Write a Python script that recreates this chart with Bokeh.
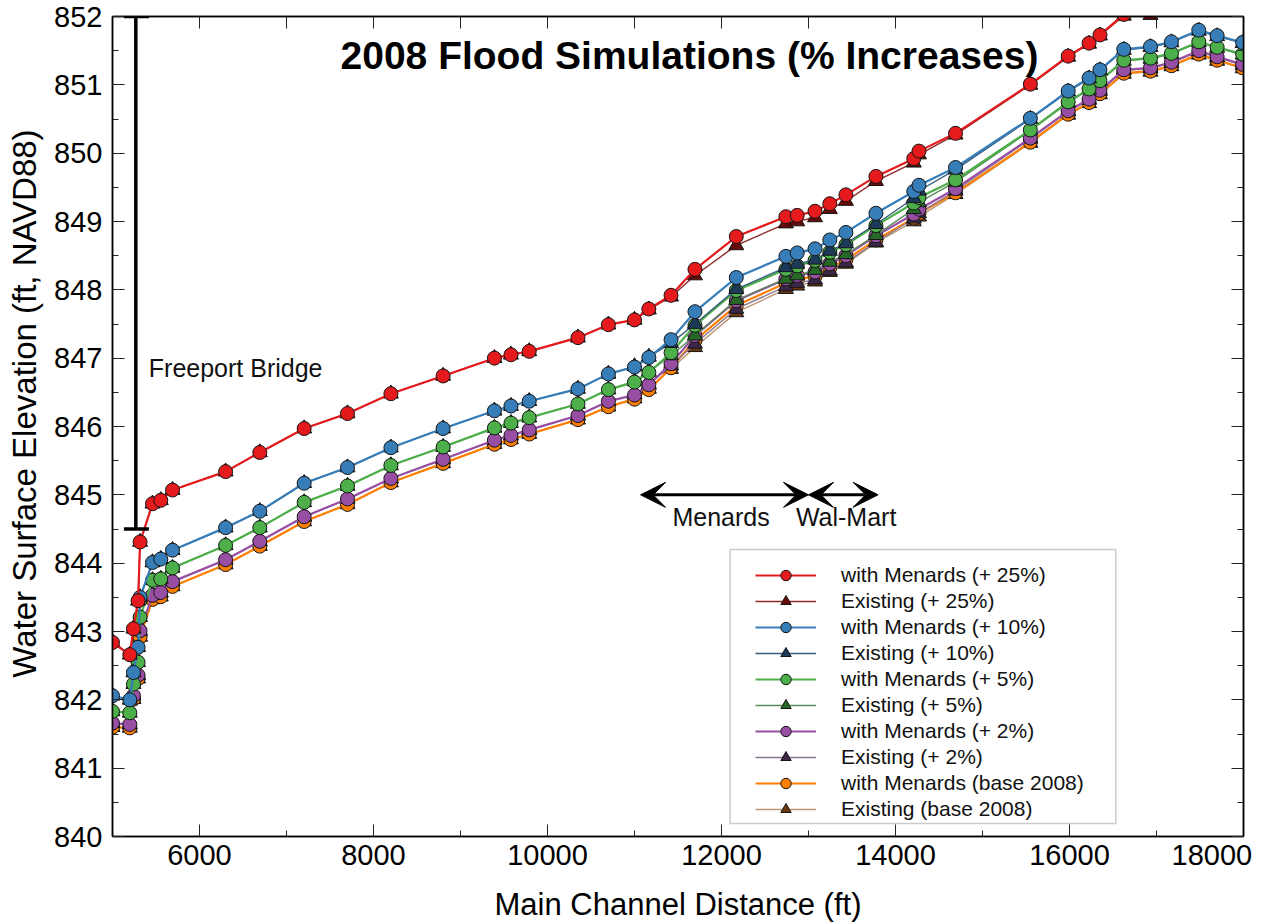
from bokeh.plotting import figure
from bokeh.models import (Range1d, LinearAxis, SingleIntervalTicker, FixedTicker, Legend, LegendItem,
                          Label, Arrow, VeeHead, BoxAnnotation, ColumnDataSource)
from bokeh.embed import file_html
from bokeh.resources import INLINE

FONT = "Liberation Sans"

# ---------------- data ----------------
distance_ft = [5000, 5199, 5241, 5294, 5317, 5460, 5555, 5690, 6300, 6693, 7203, 7701, 8200, 8800,
               9390, 9580, 9790, 10350, 10700, 11000, 11165, 11420, 11695, 12170, 12740, 12870,
               13075, 13245, 13430, 13775, 14210, 14270, 14690, 15550, 15985, 16225, 16350,
               16624, 16931, 17172, 17486, 17697, 17990]

menards_25 = [842.84, 842.66, 843.04, 843.45, 844.31, 844.87, 844.92, 845.07, 845.34, 845.62, 845.97,
              846.19, 846.48, 846.74, 847.00, 847.05, 847.10, 847.30, 847.49, 847.56, 847.72, 847.92,
              848.30, 848.78, 849.07, 849.09, 849.15, 849.26, 849.39, 849.66, 849.92, 850.03, 850.29,
              851.01, 851.42, 851.61, 851.73, 852.03, 852.12, 852.20, 852.35, 852.30, 852.25]
existing_25 = [842.84, 842.66, 843.04, 843.45, 844.31, 844.87, 844.92, 845.07, 845.34, 845.62, 845.97,
               846.19, 846.48, 846.74, 847.00, 847.05, 847.10, 847.30, 847.49, 847.56, 847.71, 847.90,
               848.21, 848.65, 848.97, 849.00, 849.06, 849.18, 849.30, 849.59, 849.86, 849.98, 850.27,
               851.00, 851.41, 851.60, 851.72, 852.01, 852.02, 852.10, 852.25, 852.20, 852.15]
menards_10 = [842.06, 842.00, 842.40, 842.77, 843.50, 844.01, 844.06, 844.19, 844.52, 844.76, 845.17,
              845.40, 845.69, 845.97, 846.23, 846.30, 846.37, 846.55, 846.77, 846.87, 847.01, 847.27,
              847.68, 848.18, 848.49, 848.54, 848.60, 848.73, 848.84, 849.12, 849.44, 849.53, 849.79,
              850.51, 850.91, 851.10, 851.22, 851.52, 851.56, 851.63, 851.80, 851.72, 851.62]
existing_10 = [842.06, 842.00, 842.40, 842.77, 843.50, 844.01, 844.06, 844.19, 844.52, 844.76, 845.17,
               845.40, 845.69, 845.97, 846.23, 846.30, 846.37, 846.55, 846.77, 846.88, 847.02, 847.22,
               847.50, 848.01, 848.33, 848.38, 848.44, 848.57, 848.68, 848.96, 849.34, 849.45, 849.76,
               850.50, 850.90, 851.09, 851.21, 851.51, 851.55, 851.62, 851.79, 851.71, 851.61]
menards_5 = [841.83, 841.81, 842.23, 842.55, 843.21, 843.75, 843.77, 843.93, 844.26, 844.52, 844.89,
             845.13, 845.43, 845.70, 845.98, 846.05, 846.13, 846.33, 846.54, 846.65, 846.79, 847.08,
             847.48, 847.99, 848.30, 848.35, 848.43, 848.55, 848.66, 848.94, 849.27, 849.35, 849.61,
             850.34, 850.75, 850.94, 851.06, 851.36, 851.39, 851.46, 851.63, 851.55, 851.45]
existing_5 = [841.83, 841.81, 842.23, 842.55, 843.21, 843.75, 843.77, 843.93, 844.26, 844.52, 844.89,
              845.13, 845.43, 845.70, 845.98, 846.05, 846.13, 846.33, 846.54, 846.66, 846.80, 847.04,
              847.33, 847.85, 848.16, 848.21, 848.29, 848.41, 848.52, 848.80, 849.18, 849.28, 849.58,
              850.33, 850.74, 850.93, 851.05, 851.35, 851.38, 851.45, 851.62, 851.54, 851.44]
menards_2 = [841.66, 841.64, 842.06, 842.36, 843.01, 843.53, 843.57, 843.73, 844.05, 844.32, 844.68,
             844.94, 845.24, 845.52, 845.80, 845.87, 845.95, 846.16, 846.37, 846.46, 846.61, 846.92,
             847.33, 847.84, 848.16, 848.21, 848.26, 848.38, 848.50, 848.79, 849.11, 849.18, 849.48,
             850.22, 850.62, 850.79, 850.92, 851.22, 851.25, 851.33, 851.50, 851.41, 851.30]
existing_2 = [841.66, 841.64, 842.06, 842.36, 843.01, 843.53, 843.57, 843.73, 844.05, 844.32, 844.68,
              844.94, 845.24, 845.52, 845.80, 845.87, 845.95, 846.16, 846.37, 846.47, 846.62, 846.89,
              847.21, 847.72, 848.05, 848.10, 848.15, 848.28, 848.40, 848.70, 849.04, 849.12, 849.45,
              850.21, 850.61, 850.78, 850.91, 851.21, 851.24, 851.32, 851.49, 851.40, 851.29]
menards_base = [841.60, 841.59, 842.01, 842.31, 842.92, 843.47, 843.51, 843.66, 843.98, 844.25, 844.61,
                844.86, 845.18, 845.46, 845.74, 845.81, 845.89, 846.10, 846.29, 846.40, 846.54, 846.86,
                847.26, 847.77, 848.10, 848.15, 848.20, 848.32, 848.44, 848.73, 849.05, 849.12, 849.42,
                850.16, 850.57, 850.74, 850.87, 851.17, 851.20, 851.28, 851.45, 851.36, 851.25]
existing_base = [841.60, 841.59, 842.01, 842.31, 842.92, 843.47, 843.51, 843.66, 843.98, 844.25, 844.61,
                 844.86, 845.18, 845.46, 845.74, 845.81, 845.89, 846.10, 846.29, 846.41, 846.55, 846.84,
                 847.16, 847.67, 848.01, 848.06, 848.12, 848.26, 848.38, 848.69, 849.00, 849.07, 849.40,
                 850.15, 850.56, 850.73, 850.86, 851.16, 851.19, 851.27, 851.44, 851.35, 851.24]

series_labels = ["with Menards (+ 25%)", "Existing (+ 25%)", "with Menards (+ 10%)", "Existing (+ 10%)",
                 "with Menards (+ 5%)", "Existing (+ 5%)", "with Menards (+ 2%)", "Existing (+ 2%)",
                 "with Menards (base 2008)", "Existing (base 2008)"]
series_values = [menards_25, existing_25, menards_10, existing_10, menards_5, existing_5,
                 menards_2, existing_2, menards_base, existing_base]

x_tick_labels = ["6000", "8000", "10000", "12000", "14000", "16000", "18000"]
# label anchor positions (layout): the last label sits inside the frame edge as in the original
x_label_anchor = [6000, 8000, 10000, 12000, 14000, 16000, 17636]

# annotation anchors (data units)
bridge_x = 5268
bridge_y = (844.5, 852.0)
bridge_cap = (5131, 5418)
menards_span = (11070, 13000)
walmart_span = (13000, 13800)
store_arrow_y = 845.0

# ---------------- styles ----------------
line_colors = ["#e41a1c", "#8e2b2b", "#377eb8", "#3a5d7e", "#4daf4a", "#5b8b5b",
               "#984ea3", "#8a7693", "#ff7f00", "#b8956f"]
fill_colors = ["#e41a1c", "#660a0a", "#377eb8", "#1e3a5a", "#4daf4a", "#266826",
               "#984ea3", "#3b2848", "#ff7f00", "#6a3810"]
markers = ["circle", "triangle"] * 5
line_widths = [2.2, 1.4] * 5

p = figure(width=1266, height=924, output_backend="svg", toolbar_location=None, title=None,
           x_range=Range1d(5000, 18000), y_range=Range1d(840, 852),
           min_border_left=112, min_border_right=23, min_border_top=16, min_border_bottom=88)
p.xgrid.visible = False
p.ygrid.visible = False
p.outline_line_color = "black"
p.outline_line_width = 1.5
p.background_fill_color = "white"

p.xaxis.ticker = SingleIntervalTicker(interval=2000, num_minor_ticks=2)
p.yaxis.ticker = SingleIntervalTicker(interval=1, num_minor_ticks=2)
for ax in (p.xaxis[0], p.yaxis[0]):
    ax.major_tick_in = 12
    ax.major_tick_out = 0
    ax.minor_tick_in = 6
    ax.minor_tick_out = 0
    ax.major_tick_line_color = "#222222"
    ax.minor_tick_line_color = "#222222"
    ax.axis_line_color = "black"
    ax.axis_line_width = 1.5
    ax.major_label_text_font = FONT
    ax.major_label_text_font_size = "29px"
    ax.major_label_text_color = "black"
    ax.axis_label_text_font = FONT
    ax.axis_label_text_font_style = "normal"
    ax.axis_label_text_color = "black"
# bottom frame axis: ticks only; labels come from the label axis below it
p.xaxis.major_label_text_font_size = "1px"
p.xaxis.major_label_text_alpha = 0
p.xaxis.major_label_standoff = 0
# leading no-break spaces nudge the rotated title upward, as it sits in the original
p.yaxis.axis_label = "\u00a0" * 5 + "Water Surface Elevation (ft, NAVD88)"
p.yaxis.axis_label_text_font_size = "33px"
p.yaxis.major_label_standoff = 10
p.yaxis.axis_label_standoff = 8

label_axis = LinearAxis(ticker=FixedTicker(ticks=x_label_anchor, minor_ticks=[]),
                        major_label_overrides={a: t for a, t in zip(x_label_anchor, x_tick_labels)},
                        major_tick_in=0, major_tick_out=0, minor_tick_in=0, minor_tick_out=0,
                        axis_line_alpha=0, major_tick_line_alpha=0, minor_tick_line_alpha=0,
                        major_label_text_font=FONT, major_label_text_font_size="29px",
                        major_label_text_color="black", major_label_standoff=8,
                        axis_label="Main Channel Distance (ft)", axis_label_text_font=FONT,
                        axis_label_text_font_size="31px", axis_label_text_font_style="normal",
                        axis_label_text_color="black", axis_label_standoff=19)
p.add_layout(label_axis, "below")

top_axis = LinearAxis(ticker=SingleIntervalTicker(interval=1000, num_minor_ticks=0),
                      major_tick_in=12, major_tick_out=0, minor_tick_in=0, minor_tick_out=0,
                      major_label_text_font_size="1px", major_label_text_alpha=0,
                      major_label_standoff=0, axis_line_color="black", axis_line_width=1.5,
                      major_tick_line_color="#222222")
right_axis = LinearAxis(ticker=SingleIntervalTicker(interval=1, num_minor_ticks=2),
                        major_tick_in=12, major_tick_out=0, minor_tick_in=6, minor_tick_out=0,
                        major_label_text_font_size="1px", major_label_text_alpha=0,
                        major_label_standoff=0, axis_line_color="black", axis_line_width=1.5,
                        major_tick_line_color="#222222", minor_tick_line_color="#222222")
p.add_layout(top_axis, "above")
p.add_layout(right_axis, "right")

# ---------------- series ----------------
rend = {}
for i in reversed(range(len(series_labels))):
    src = ColumnDataSource(dict(x=distance_ft, y=series_values[i]))
    ln = p.line("x", "y", source=src, line_color=line_colors[i], line_width=line_widths[i])
    sc = p.scatter("x", "y", source=src, marker=markers[i], size=14 if markers[i] == "circle" else 15,
                   fill_color=fill_colors[i], line_color="#151515", line_width=1)
    rend[i] = [ln, sc]

# bridge marker
p.segment(x0=[bridge_x, bridge_cap[0], bridge_cap[0]], y0=[bridge_y[0], bridge_y[0], bridge_y[1]],
          x1=[bridge_x, bridge_cap[1], bridge_cap[1]], y1=[bridge_y[1], bridge_y[0], bridge_y[1]],
          line_color="black", line_width=3.5)
p.add_layout(Label(x=5417, y=846.86, text="Freeport Bridge", text_font=FONT, text_font_size="25px",
                   text_baseline="middle", text_align="left", text_color="#111111"))

# store arrows
for (xs, xe) in (menards_span, walmart_span):
    p.add_layout(Arrow(x_start=xs, y_start=store_arrow_y, x_end=xe, y_end=store_arrow_y,
                       line_width=3, line_color="black",
                       start=VeeHead(size=25, fill_color="black", line_color="black", line_width=1),
                       end=VeeHead(size=25, fill_color="black", line_color="black", line_width=1)))
p.add_layout(Label(x=11436, y=844.67, text="Menards", text_font=FONT, text_font_size="25px",
                   text_baseline="middle", text_color="#111111"))
p.add_layout(Label(x=12855, y=844.67, text="Wal-Mart", text_font=FONT, text_font_size="25px",
                   text_baseline="middle", text_color="#111111"))

# chart title
p.add_layout(Label(x=11632, y=851.43, text="2008 Flood Simulations (% Increases)", text_font=FONT,
                   text_font_size="39px", text_font_style="bold", text_align="center",
                   text_baseline="middle", text_color="black"))

# legend (frame box drawn separately so the entries can sit inset as in the original)
p.add_layout(BoxAnnotation(left=12099, right=16532, top=844.20, bottom=840.19,
                           fill_color="white", fill_alpha=1, line_color="#555555", line_width=1.5))
items = [LegendItem(label=series_labels[i], renderers=rend[i]) for i in range(len(series_labels))]
legend = Legend(items=items, location=(643, 14), padding=0, spacing=0, margin=0,
                glyph_width=61, glyph_height=26, label_height=26, label_standoff=25,
                label_text_font=FONT, label_text_font_size="21px", label_text_color="#111111",
                border_line_alpha=0, background_fill_alpha=0)
p.add_layout(legend)

open("out.html", "w").write(file_html(p, INLINE))
